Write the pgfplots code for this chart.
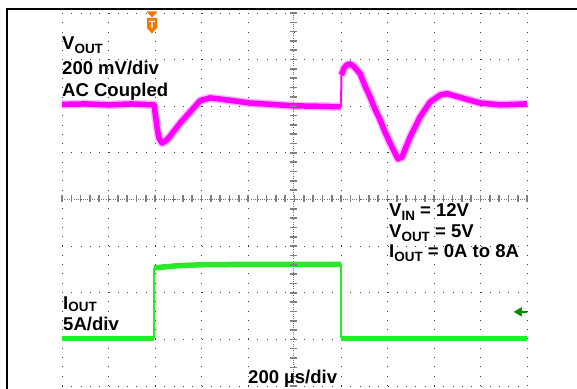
\documentclass[border=0pt]{standalone}
\usepackage{pgfplots}
\pgfplotsset{compat=1.18}
\usepackage{fontspec}
\setmainfont{Liberation Sans}
\definecolor{scopemag}{RGB}{255,0,255}
\definecolor{scopegreen}{RGB}{40,235,40}
\definecolor{refgreen}{RGB}{0,140,0}
\definecolor{trigorange}{RGB}{240,120,0}
\newcommand{\sub}[1]{\raisebox{-3.5bp}{\fontsize{13.5}{13.5}\selectfont #1}}
\newcommand{\subb}[1]{\raisebox{-2.5bp}{\fontsize{13.5}{13.5}\selectfont #1}}
\begin{document}
\begin{tikzpicture}
\useasboundingbox (0,0) rectangle (577bp,389bp);
\fill[white] (0,0) rectangle (577bp,389bp);
\begin{axis}[
  at={(62bp,3bp)}, anchor=south west, scale only axis,
  width=465bp, height=373bp,
  xmin=0, xmax=2000, ymin=0, ymax=8,
  xtick={0,200,...,2000}, ytick={0,1,...,8},
  xticklabels={}, yticklabels={},
  major tick length=0pt,
  axis line style={draw=none},
  grid=major,
  major grid style={black!75, line width=1bp, dash pattern=on 1bp off 8.3bp},
  clip=false,
]
% VOUT (magenta)
\addplot[scopemag, line width=2bp] coordinates {(1200,5.99)(1202,6.67)};
\addplot[scopemag!45, line width=8.5bp, line join=round, opacity=0.6] coordinates {
(0,6.04)(100,6.05)(200,6.03)(300,6.05)(396,6.03)(400,5.88)(409,5.54)(417,5.32)(430,5.21)(447,5.26)(465,5.36)(508,5.64)(551,5.88)(594,6.12)(637,6.18)(701,6.14)(809,6.07)(994,6.01)(1100,6.00)(1199,5.99)};
\addplot[scopemag, line width=5.5bp, line join=round] coordinates {
(0,6.04)(100,6.05)(200,6.03)(300,6.05)(396,6.03)(400,5.88)(409,5.54)(417,5.32)(430,5.21)(447,5.26)(465,5.36)(508,5.64)(551,5.88)(594,6.12)(637,6.18)(701,6.14)(809,6.07)(994,6.01)(1100,6.00)(1199,5.99)};
\addplot[scopemag!45, line width=8.5bp, line join=round, opacity=0.6] coordinates {
(1202,6.67)(1213,6.82)(1226,6.89)(1239,6.91)(1256,6.85)(1282,6.70)(1303,6.44)(1325,6.20)(1346,5.94)(1368,5.71)(1389,5.45)(1411,5.21)(1432,5.00)(1445,4.87)(1462,4.91)(1497,5.34)(1540,5.77)(1583,6.09)(1626,6.24)(1656,6.27)(1733,6.16)(1798,6.07)(1884,6.03)(2000,6.05)};
\addplot[scopemag, line width=5.5bp, line join=round] coordinates {
(1202,6.67)(1213,6.82)(1226,6.89)(1239,6.91)(1256,6.85)(1282,6.70)(1303,6.44)(1325,6.20)(1346,5.94)(1368,5.71)(1389,5.45)(1411,5.21)(1432,5.00)(1445,4.87)(1462,4.91)(1497,5.34)(1540,5.77)(1583,6.09)(1626,6.24)(1656,6.27)(1733,6.16)(1798,6.07)(1884,6.03)(2000,6.05)};
% IOUT (green)
\addplot[scopegreen, line width=1.2bp] coordinates {(396,1.02)(396,2.53)};
\addplot[scopegreen, line width=1.2bp] coordinates {(1200,2.61)(1200,1.02)};
\addplot[scopegreen, line width=5.5bp] coordinates {(0,1.02)(396,1.02)};
\addplot[scopegreen, line width=5.5bp, line join=round] coordinates {(396,2.53)(430,2.55)(500,2.58)(594,2.60)(800,2.61)(1000,2.61)(1200,2.61)};
\addplot[scopegreen, line width=5.5bp] coordinates {(1200,1.02)(2000,1.02)};
% channel 2 reference marker
\addplot[refgreen, line width=1.5bp] coordinates {(1965,1.59)(2000,1.59)};
\addplot[only marks, mark=triangle*, mark size=5bp, mark options={rotate=90, fill=refgreen, draw=refgreen}] coordinates {(1966,1.59)};
\end{axis}
% centre crosshair with minor ticks
\draw[black!55, line width=0.8bp, dash pattern=on 1bp off 1.3bp] (293bp,3bp) -- (293bp,376bp);
\draw[black!55, line width=0.8bp, dash pattern=on 1bp off 1.3bp] (62bp,190bp) -- (527bp,190bp);
\foreach \i in {0,...,40} {
  \draw[black!50, line width=1.6bp] (289.5bp,3bp+\i*9.325bp) -- (296.5bp,3bp+\i*9.325bp);
}
\foreach \i in {0,...,50} {
  \draw[black!50, line width=1.6bp] (62bp+\i*9.3bp,186.5bp) -- (62bp+\i*9.3bp,193.5bp);
}
% frame
\draw[black, line width=2.2bp] (7bp,0) -- (7bp,380bp) -- (577bp,380bp);
% trigger marker
\fill[trigorange] (146.5bp,377.5bp) -- (157.5bp,377.5bp) -- (152bp,371.5bp) -- cycle;
\fill[trigorange] (147bp,371bp) -- (157bp,371bp) -- (157bp,361bp) -- (152bp,355.5bp) -- (147bp,361bp) -- cycle;
\node[white, font=\bfseries\fontsize{10.5}{10.5}\selectfont, inner sep=0pt] at (152bp,364bp) {T};
% labels
\begin{scope}[every node/.style={anchor=base west, inner sep=0pt, font=\bfseries\fontsize{18.6}{18.6}\selectfont}]
\node at (62bp,339bp) {V\sub{OUT}};
\node at (62bp,314.5bp) {200 mV/div};
\node at (62bp,292bp) {AC Coupled};
\node at (63bp,79.5bp) {I\subb{OUT}};
\node at (63bp,58.5bp) {5A/div};
\node at (248bp,6bp) {200 µs/div};
\node at (389bp,172bp) {V\sub{IN} = 12V};
\node at (389bp,151bp) {V\sub{OUT} = 5V};
\node at (389bp,131bp) {I\sub{OUT} = 0A to 8A};
\end{scope}
\end{tikzpicture}
\end{document}
